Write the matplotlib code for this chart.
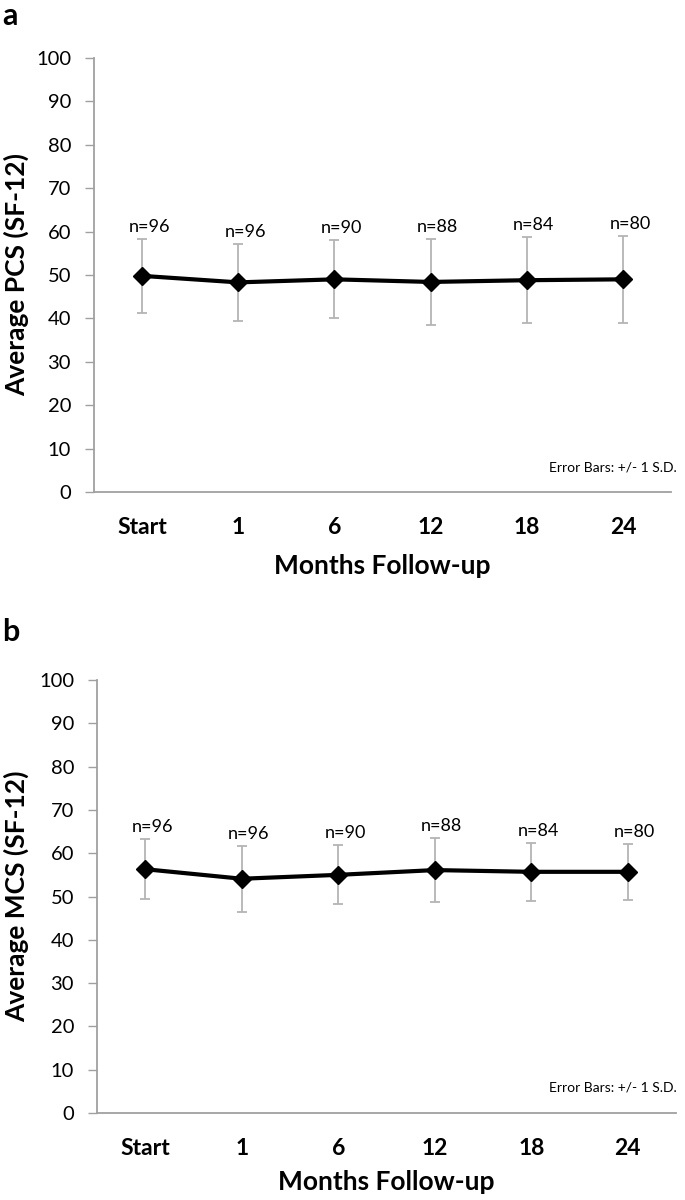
import matplotlib
matplotlib.use("Agg")
import matplotlib.pyplot as plt

plt.rcParams['font.family'] = ['Lato', 'DejaVu Sans']

months = ["Start", "1", "6", "12", "18", "24"]
n_counts = [96, 96, 90, 88, 84, 80]
pcs_mean = [49.8, 48.3, 49.0, 48.4, 48.8, 49.0]
pcs_sd = [8.6, 8.8, 9.0, 9.9, 9.9, 10.1]
mcs_mean = [56.3, 54.1, 55.0, 56.1, 55.7, 55.7]
mcs_sd = [6.9, 7.6, 6.8, 7.3, 6.7, 6.5]
y_ticks = [0, 10, 20, 30, 40, 50, 60, 70, 80, 90, 100]

W, H = 685, 1200
fig = plt.figure(figsize=(W / 100, H / 100), dpi=100)

SPINE = '#a0a0a0'
ERR = '#b4b4b4'


def panel(rect, means, sds, ylabel, letter, letter_y, note_y, xlab_y):
    l, b, r, t = rect
    ax = fig.add_axes([l / W, 1 - b / H, (r - l) / W, (b - t) / H])
    x = list(range(len(months)))
    ax.errorbar(x, means, yerr=sds, fmt='none', ecolor=ERR, elinewidth=1.3,
                capsize=3.3, capthick=1.3, zorder=2)
    ax.plot(x, means, color='black', lw=3, marker='D', ms=9, zorder=3)
    for i, (m, s, n) in enumerate(zip(means, sds, n_counts)):
        ax.annotate(f"n={n}", (i, m + s), xytext=(7, 12),
                    textcoords='offset pixels', ha='center', va='center',
                    fontsize=13)
    ax.set_xlim(-0.5, len(months) - 0.5)
    ax.set_ylim(0, 100)
    ax.set_yticks(y_ticks)
    ax.set_xticks(x)
    ax.set_xticklabels(months, fontsize=16.5, fontweight='bold')
    ax.tick_params(axis='x', length=0, pad=18)
    ax.tick_params(axis='y', length=6.5, width=1, color=SPINE, labelsize=14.5, pad=10)
    for s in ['top', 'right']:
        ax.spines[s].set_visible(False)
    for s in ['left', 'bottom']:
        ax.spines[s].set_color(SPINE)
        ax.spines[s].set_linewidth(1.3)
    xl = ax.set_xlabel("Months Follow-up", fontsize=19, fontweight='bold')
    xl.set_va('center')
    ax.xaxis.set_label_coords(0.5, (b - xlab_y) / (b - t))
    yl = ax.set_ylabel(ylabel, fontsize=19, fontweight='bold')
    yl.set_va('center')
    ax.yaxis.set_label_coords((16 - l) / (r - l), 0.5)
    fig.text(2 / W, 1 - letter_y / H, letter, fontsize=22, fontweight='bold',
             ha='left', va='top')
    fig.text(677 / W, 1 - note_y / H, "Error Bars: +/- 1 S.D.", fontsize=10,
             ha='right', va='center')
    return ax


panel((94, 492, 671, 58), pcs_mean, pcs_sd, "Average PCS (SF-12)", "a", 2, 467, 566)
panel((97, 1113, 676, 680), mcs_mean, mcs_sd, "Average MCS (SF-12)", "b", 618, 1088, 1182)

fig.savefig("out.png", dpi=100)
